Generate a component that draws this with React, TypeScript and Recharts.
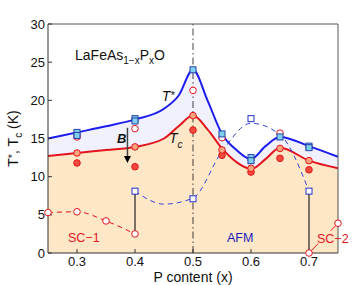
import React from 'react';
import {
  ComposedChart,
  Area,
  Line,
  Scatter,
  XAxis,
  YAxis,
  ReferenceLine,
  ReferenceDot,
} from 'recharts';

// smooth guide curves (knots)
const curveX = [0.25, 0.3, 0.35, 0.4, 0.45, 0.475, 0.5, 0.525, 0.55, 0.575, 0.6, 0.625, 0.65, 0.7, 0.75];
const tStarCurve = [15.0, 15.8, 16.6, 17.5, 18.9, 20.6, 24.0, 20.0, 15.6, 13.5, 12.3, 14.0, 15.2, 14.0, 12.6];
const tcCurve = [12.7, 13.1, 13.5, 13.9, 15.0, 16.6, 18.0, 16.2, 13.7, 11.9, 11.0, 12.3, 13.8, 12.1, 11.1];

const afmX = [0.4, 0.45, 0.5, 0.55, 0.6, 0.65, 0.7];
const afmCurve = [8.1, 6.4, 7.2, 13.3, 17.0, 15.5, 8.1];

// measured points
const tStarX = [0.3, 0.3, 0.4, 0.4, 0.5, 0.55, 0.6, 0.6, 0.65, 0.7, 0.7];
const tStarY = [15.8, 15.4, 17.6, 17.3, 24.0, 15.6, 12.5, 12.1, 15.2, 14.0, 13.8];

const openX = [0.3, 0.4, 0.5, 0.55, 0.65];
const openY = [15.2, 16.3, 21.3, 15.1, 15.7];

const tcX = [0.3, 0.4, 0.5, 0.55, 0.6, 0.65, 0.7];
const tcMidY = [13.1, 13.9, 18.0, 13.5, 11.1, 13.7, 12.1];
const tcLowY = [11.8, 11.3, 16.1, 12.8, 10.6, 12.4, 10.9];

const afmPtX = [0.4, 0.5, 0.6, 0.7];
const afmPtY = [8.1, 7.1, 17.6, 8.1];

const sc1X = [0.25, 0.3, 0.35, 0.4];
const sc1Y = [5.3, 5.4, 4.2, 2.5];

const sc2X = [0.7, 0.75];
const sc2Y = [0, 3.9];

const xTicks = [0.3, 0.4, 0.5, 0.6, 0.7];
const yTicks = [0, 5, 10, 15, 20, 25, 30];

const pts = (xs: number[], ys: number[]) => xs.map((x, i) => ({ x, y: ys[i] }));
const curveData = curveX.map((x, i) => ({ x, tStar: tStarCurve[i], tc: tcCurve[i] }));

const FONT = '"Liberation Sans", Arial, sans-serif';
const RED = '#e3141c';
const BLUE = '#1c1cf0';

const square = (fill: string, stroke: string) => (p: any) => (
  <rect x={p.cx - 3} y={p.cy - 3} width={6} height={6} fill={fill} stroke={stroke} strokeWidth={1} />
);
const circle = (fill: string, stroke: string) => (p: any) => (
  <circle cx={p.cx} cy={p.cy} r={3.3} fill={fill} stroke={stroke} strokeWidth={1} />
);

export default function App() {
  return (
    <div style={{ position: 'absolute', left: 0, top: 0 }}>
      <ComposedChart
        width={353}
        height={285}
        data={curveData}
        margin={{ top: 23, right: 14, bottom: 0, left: 0 }}
        style={{ fontFamily: FONT }}
      >
        <XAxis
          dataKey="x"
          type="number"
          domain={[0.25, 0.75]}
          ticks={xTicks}
          height={32}
          tickSize={-4}
          tickMargin={8}
          stroke="#333"
          tick={{ fill: '#111', fontSize: 13 }}
          tickFormatter={(v: number) => v.toFixed(1)}
          label={{
            content: (p: any) => (
              <text x={p.viewBox.x + p.viewBox.width / 2} y={282} textAnchor="middle" fontSize={14} fill="#111">
                P content (x)
              </text>
            ),
          }}
        />
        <XAxis
          xAxisId="top"
          orientation="top"
          dataKey="x"
          type="number"
          domain={[0.25, 0.75]}
          ticks={xTicks}
          height={1}
          tickSize={-4}
          tick={false}
          stroke="#555"
        />
        <YAxis
          type="number"
          domain={[0, 30]}
          ticks={yTicks}
          width={48}
          tickSize={-4}
          tickMargin={7}
          stroke="#333"
          tick={{ fill: '#111', fontSize: 13 }}
          label={{
            content: (p: any) => {
              const cy = p.viewBox.y + p.viewBox.height / 2;
              return (
                <text x={18} y={cy} transform={`rotate(-90 18 ${cy})`} textAnchor="middle" fontSize={14} fill="#111">
                  T<tspan fontSize={11} dy={-2}>*</tspan>
                  <tspan dy={2}>, T</tspan>
                  <tspan fontSize={10} dy={4}>c</tspan>
                  <tspan dy={-4}> (K)</tspan>
                </text>
              );
            },
          }}
        />
        <YAxis
          yAxisId="right"
          orientation="right"
          type="number"
          domain={[0, 30]}
          ticks={yTicks}
          width={1}
          tickSize={-4}
          tick={false}
          stroke="#555"
        />

        <Area
          type="monotone"
          dataKey="tStar"
          stroke={BLUE}
          strokeWidth={2}
          fill="#f1f1fd"
          fillOpacity={1}
          dot={false}
          activeDot={false}
          isAnimationActive={false}
        />
        <Area
          type="monotone"
          dataKey="tc"
          stroke={RED}
          strokeWidth={2}
          fill="#fde7c7"
          fillOpacity={1}
          dot={false}
          activeDot={false}
          isAnimationActive={false}
        />

        <ReferenceLine x={0.5} stroke="#111" strokeWidth={0.8} strokeDasharray="7 3 1.5 3" />
        <ReferenceLine segment={[{ x: 0.4, y: sc1Y[3] }, { x: 0.4, y: afmPtY[0] }]} stroke="#222" strokeWidth={1.2} />
        <ReferenceLine segment={[{ x: 0.7, y: sc2Y[0] }, { x: 0.7, y: afmPtY[3] }]} stroke="#222" strokeWidth={1.2} />
        <ReferenceLine segment={[{ x: 0.387, y: 16.4 }, { x: 0.387, y: 12.6 }]} stroke="#444" strokeWidth={1.5} />
        <ReferenceDot
          x={0.387}
          y={11.8}
          r={0}
          shape={(p: any) => (
            <polygon points={`${p.cx},${p.cy} ${p.cx - 3.5},${p.cy - 7} ${p.cx + 3.5},${p.cy - 7}`} fill="#000" />
          )}
        />

        <Line
          data={pts(afmX, afmCurve)}
          dataKey="y"
          type="monotone"
          stroke="#3346d6"
          strokeWidth={1}
          strokeDasharray="5 4"
          dot={false}
          activeDot={false}
          isAnimationActive={false}
        />
        <Line
          data={pts(sc1X, sc1Y)}
          dataKey="y"
          type="monotone"
          stroke={RED}
          strokeWidth={1}
          strokeDasharray="5 4"
          dot={false}
          activeDot={false}
          isAnimationActive={false}
        />
        <Line
          data={pts(sc2X, sc2Y)}
          dataKey="y"
          type="linear"
          stroke={RED}
          strokeWidth={1}
          strokeDasharray="13 18 12"
          dot={false}
          activeDot={false}
          isAnimationActive={false}
        />

        <Scatter data={pts(openX, openY)} dataKey="y" shape={circle('#fff', RED)} isAnimationActive={false} />
        <Scatter data={pts(tStarX, tStarY)} dataKey="y" shape={square('#80d0f0', '#2440a8')} isAnimationActive={false} />
        <Scatter data={pts(tcX, tcLowY)} dataKey="y" shape={circle('#f24b3d', RED)} isAnimationActive={false} />
        <Scatter data={pts(tcX, tcMidY)} dataKey="y" shape={circle('#fba57f', RED)} isAnimationActive={false} />
        <Scatter data={pts(afmPtX, afmPtY)} dataKey="y" shape={square('#fff', '#2231c8')} isAnimationActive={false} />
        <Scatter data={pts(sc1X, sc1Y)} dataKey="y" shape={circle('#fff', RED)} isAnimationActive={false} />
        <Scatter data={pts(sc2X, sc2Y)} dataKey="y" shape={circle('#fff', RED)} isAnimationActive={false} />

        <ReferenceDot
          x={0.2966}
          y={25.3}
          r={0}
          shape={(p: any) => (
            <text x={p.cx} y={p.cy} fontSize={14} fill="#111">
              LaFeAs
              <tspan fontSize={10} dy={4}>1−x</tspan>
              <tspan dy={-4}>P</tspan>
              <tspan fontSize={10} dy={4}>x</tspan>
              <tspan dy={-4}>O</tspan>
            </text>
          )}
        />
        <ReferenceDot
          x={0.446}
          y={19.9}
          r={0}
          shape={(p: any) => (
            <text x={p.cx} y={p.cy} fontSize={14} fontStyle="italic" fill="#111">
              T<tspan fontSize={11} dy={-2}>*</tspan>
            </text>
          )}
        />
        <ReferenceDot
          x={0.4586}
          y={14.4}
          r={0}
          shape={(p: any) => (
            <text x={p.cx} y={p.cy} fontSize={14} fontStyle="italic" fill="#111">
              T<tspan fontSize={10} dy={5}>c</tspan>
            </text>
          )}
        />
        <ReferenceDot
          x={0.369}
          y={14.4}
          r={0}
          shape={(p: any) => (
            <text x={p.cx} y={p.cy} fontSize={13} fontStyle="italic" fontWeight="bold" fill="#111">
              B
            </text>
          )}
        />
        <ReferenceDot
          x={0.2845}
          y={1.44}
          r={0}
          shape={(p: any) => (
            <text x={p.cx} y={p.cy} fontSize={12.5} fill={RED}>
              SC−1
            </text>
          )}
        />
        <ReferenceDot
          x={0.6}
          y={1.44}
          r={0}
          shape={(p: any) => (
            <text x={p.cx - 24} y={p.cy} fontSize={12.5} fill="#1a1ab8">
              AFM
            </text>
          )}
        />
        <ReferenceDot
          x={0.7138}
          y={1.31}
          r={0}
          ifOverflow="visible"
          shape={(p: any) => (
            <text x={p.cx} y={p.cy} fontSize={12.5} fill={RED}>
              SC−2
            </text>
          )}
        />
      </ComposedChart>
    </div>
  );
}
